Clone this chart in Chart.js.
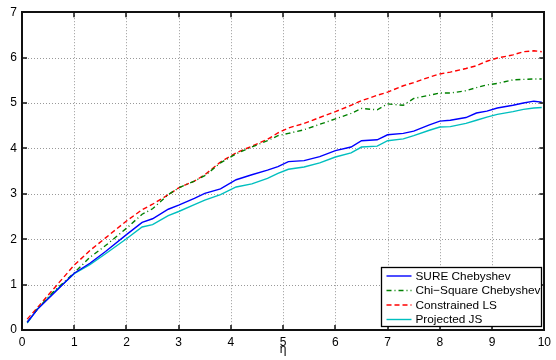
<!DOCTYPE html>
<html><head><meta charset="utf-8">
<script src="https://cdn.jsdelivr.net/npm/chart.js@4.4.0/dist/chart.umd.min.js"></script>
<style>html,body{margin:0;padding:0;background:#fff}#wrap{width:556px;height:360px}</style>
</head><body><div id="wrap"><canvas id="c" width="556" height="360"></canvas></div>
<script>
const etas = [0.1,0.3,0.6,1.0,1.3,1.6,2.0,2.3,2.5,2.8,3.0,3.3,3.5,3.8,4.1,4.4,4.7,4.9,5.1,5.4,5.7,6.0,6.3,6.5,6.8,7.0,7.3,7.5,7.8,8.0,8.2,8.5,8.7,8.9,9.1,9.4,9.6,9.8,9.95];
const sureCheb = [0.17,0.46,0.80,1.25,1.47,1.73,2.10,2.37,2.45,2.66,2.75,2.90,3.01,3.11,3.31,3.42,3.52,3.60,3.71,3.73,3.82,3.95,4.03,4.17,4.19,4.30,4.33,4.38,4.52,4.60,4.62,4.68,4.78,4.82,4.89,4.95,5.00,5.04,5.02];
const chiCheb = [0.17,0.47,0.84,1.26,1.60,1.86,2.24,2.55,2.67,2.98,3.13,3.28,3.40,3.68,3.88,4.03,4.17,4.28,4.33,4.41,4.53,4.65,4.77,4.88,4.85,4.98,4.95,5.10,5.17,5.22,5.22,5.27,5.34,5.40,5.43,5.51,5.52,5.53,5.53];
const constrLS = [0.24,0.50,0.90,1.43,1.75,2.03,2.40,2.65,2.77,2.98,3.13,3.28,3.42,3.70,3.90,4.05,4.20,4.34,4.45,4.55,4.68,4.81,4.95,5.05,5.17,5.24,5.38,5.45,5.57,5.64,5.68,5.76,5.82,5.92,5.99,6.06,6.13,6.15,6.13];
const projJS = [0.15,0.47,0.82,1.24,1.44,1.68,2.01,2.27,2.32,2.52,2.61,2.76,2.86,2.98,3.15,3.22,3.34,3.45,3.54,3.59,3.68,3.81,3.90,4.03,4.05,4.17,4.21,4.28,4.40,4.47,4.48,4.55,4.62,4.69,4.75,4.81,4.86,4.89,4.90];
const xTicks = [0,1,2,3,4,5,6,7,8,9,10];
const yTicks = [0,1,2,3,4,5,6,7];
const seriesNames = ['SURE Chebyshev','Chi\u2212Square Chebyshev','Constrained LS','Projected JS'];
const xTitle = '\u03b7';

const FONT = 'Liberation Sans, Arial, Helvetica, sans-serif';
const pts = ys => etas.map((x,i)=>({x:x,y:ys[i]}));

const styles = [
  {color:'#0000ff', dash:[]},
  {color:'#008000', dash:[5,3,1,3]},
  {color:'#ff0000', dash:[5,3]},
  {color:'#00bfbf', dash:[]}
];
const seriesData = [sureCheb, chiCheb, constrLS, projJS];

const datasets = seriesData.map((d,i)=>({
  label: seriesNames[i], data: pts(d),
  borderColor: styles[i].color, borderDash: styles[i].dash,
  borderWidth: 1.4, pointRadius: 0, fill:false, tension:0
}));

const framePlugin = {
  id:'frame',
  beforeDatasetsDraw(chart){
    const {ctx, chartArea:a, scales:{x,y}} = chart;
    ctx.save();
    ctx.strokeStyle = '#999'; ctx.lineWidth = 1; ctx.setLineDash([1,2]);
    xTicks.forEach(v=>{ if(v<=0||v>=10) return; const px=Math.round(x.getPixelForValue(v))+0.5;
      ctx.beginPath(); ctx.moveTo(px,a.top); ctx.lineTo(px,a.bottom); ctx.stroke(); });
    yTicks.forEach(v=>{ if(v<=0||v>=7) return; const py=Math.round(y.getPixelForValue(v))+0.5;
      ctx.beginPath(); ctx.moveTo(a.left,py); ctx.lineTo(a.right,py); ctx.stroke(); });
    ctx.restore();
  },
  afterDatasetsDraw(chart){
    const {ctx, chartArea:a, scales:{x,y}} = chart;
    ctx.save();
    ctx.strokeStyle = '#111'; ctx.lineWidth = 2; ctx.setLineDash([]);
    ctx.strokeRect(Math.round(a.left), Math.round(a.top), Math.round(a.right-a.left), Math.round(a.bottom-a.top));
    const tl = 5;
    ctx.lineWidth = 1.5;
    xTicks.forEach(v=>{ const px=Math.round(x.getPixelForValue(v));
      ctx.beginPath(); ctx.moveTo(px,a.bottom); ctx.lineTo(px,a.bottom-tl);
      ctx.moveTo(px,a.top); ctx.lineTo(px,a.top+tl); ctx.stroke(); });
    yTicks.forEach(v=>{ const py=Math.round(y.getPixelForValue(v));
      ctx.beginPath(); ctx.moveTo(a.left,py); ctx.lineTo(a.left+tl,py);
      ctx.moveTo(a.right,py); ctx.lineTo(a.right-tl,py); ctx.stroke(); });
    // legend
    const w = 160, h = 59;
    const bx = Math.round(a.right - 3 - w)+0.5, by = Math.round(a.bottom - 4 - h)+0.5;
    ctx.fillStyle = '#fff'; ctx.fillRect(bx,by,w,h);
    ctx.strokeStyle = '#000'; ctx.lineWidth = 1.3; ctx.strokeRect(bx,by,w,h);
    ctx.font = '11.8px ' + FONT; ctx.textBaseline = 'middle'; ctx.textAlign = 'left';
    chart.data.datasets.forEach((ds,i)=>{
      const cy = by + 8.5 + i*14.5;
      ctx.strokeStyle = ds.borderColor; ctx.lineWidth = 1.4; ctx.setLineDash(ds.borderDash||[]);
      ctx.beginPath(); ctx.moveTo(bx+5, cy); ctx.lineTo(bx+30, cy); ctx.stroke();
      ctx.setLineDash([]);
      ctx.fillStyle = '#000'; ctx.fillText(ds.label, bx+34, cy+0.5);
    });
    ctx.restore();
  }
};

new Chart(document.getElementById('c'), {
  type:'line',
  data:{datasets},
  options:{
    responsive:false, animation:false, devicePixelRatio:1,
    layout:{padding:{top:6,right:10,left:0,bottom:0}},
    plugins:{legend:{display:false}, tooltip:{enabled:false}},
    scales:{
      x:{type:'linear', min:0, max:10,
         afterBuildTicks: s=>{ s.ticks = xTicks.map(v=>({value:v})); },
         afterFit: s=>{ s.height = 30; },
         grid:{display:false, drawTicks:false}, border:{display:false},
         ticks:{color:'#000', font:{family:FONT,size:12}, padding:5, maxRotation:0, autoSkip:false},
         title:{display:true, text:xTitle, color:'#000', font:{family:FONT,size:12}, padding:{top:0,bottom:3}}},
      y:{type:'linear', min:0, max:7,
         afterBuildTicks: s=>{ s.ticks = yTicks.map(v=>({value:v})); },
         afterFit: s=>{ s.width = 22; },
         grid:{display:false, drawTicks:false}, border:{display:false},
         ticks:{color:'#000', font:{family:FONT,size:12}, padding:5, autoSkip:false}}
    }
  },
  plugins:[framePlugin]
});
</script></body></html>
